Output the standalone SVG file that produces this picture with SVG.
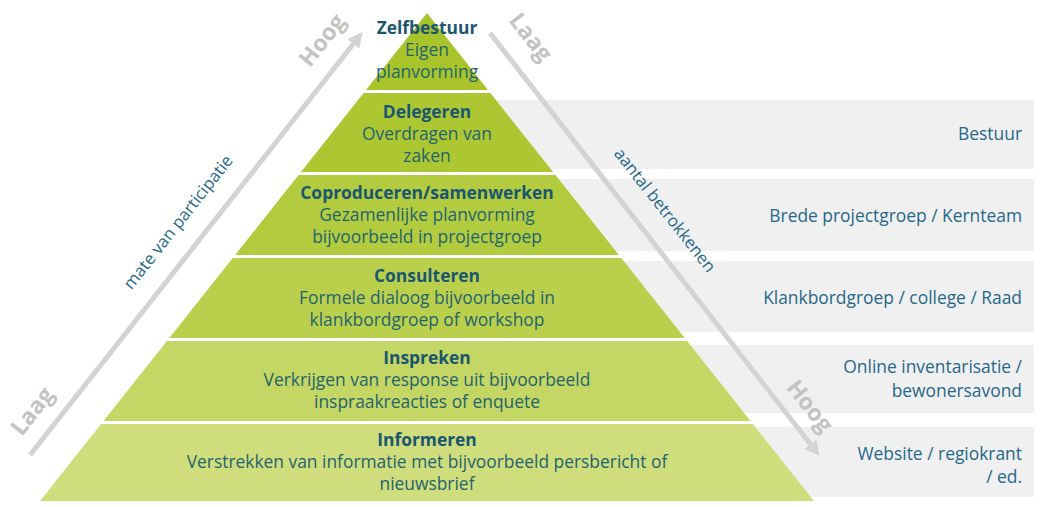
<svg xmlns="http://www.w3.org/2000/svg" width="1042" height="507" viewBox="0 0 1042 507">
<style>
.t{font-family:"Open Sans","Liberation Sans",sans-serif;font-size:17.4px;text-anchor:middle;fill:#1f646e}
.b{font-weight:700;fill:#1a5670}
.r{font-family:"Open Sans","Liberation Sans",sans-serif;font-size:17.4px;text-anchor:end;fill:#26688a}
.ax{font-family:"Open Sans","Liberation Sans",sans-serif;font-size:23px;font-weight:700;fill:#c3c3c3;text-anchor:middle}
.axl{font-family:"Open Sans","Liberation Sans",sans-serif;font-size:16.8px;fill:#26688a;text-anchor:middle}
.box{fill:#f0f0f0}
.arr{stroke:#d3d3d3;stroke-width:5;fill:none}
</style>
<defs>
<marker id="ah" viewBox="0 0 10 10" refX="5" refY="5" markerWidth="3" markerHeight="3" orient="auto" markerUnits="strokeWidth">
<path d="M0,0 L10,5 L0,10 z" fill="#d3d3d3"/>
</marker>
</defs>
<rect width="1042" height="507" fill="#ffffff"/>

<g id="side-boxes">
<g id="row-bestuur"><rect class="box" x="440" y="100" width="594" height="69"/><text class="r" x="1022" y="140">Bestuur</text></g>
<g id="row-projectgroep"><rect class="box" x="440" y="179" width="594" height="72"/><text class="r" x="1022" y="222">Brede projectgroep / Kernteam</text></g>
<g id="row-klankbord"><rect class="box" x="440" y="261" width="594" height="71"/><text class="r" x="1022" y="304">Klankbordgroep / college / Raad</text></g>
<g id="row-online"><rect class="box" x="440" y="345" width="594" height="68"/><text class="r" x="1022" y="373">Online inventarisatie /</text><text class="r" x="1022" y="397">bewonersavond</text></g>
<g id="row-website"><rect class="box" x="440" y="427" width="594" height="70"/><text class="r" x="1022" y="460">Website / regiokrant</text><text class="r" x="1022" y="483">/ ed.</text></g>
</g>

<g id="connectors">
<line class="arr" x1="30" y1="455" x2="358" y2="38" marker-end="url(#ah)"/>
<line class="arr" x1="490" y1="33" x2="815" y2="450" marker-end="url(#ah)"/>
</g>

<g id="axis-labels">
<text class="ax" transform="translate(32,411) rotate(-51.8)" dy="0.35em">Laag</text>
<text class="ax" transform="translate(322,40) rotate(-51.8)" dy="0.35em">Hoog</text>
<text class="axl" transform="translate(178,222) rotate(-51.8)" dy="0.35em">mate van participatie</text>
<text class="ax" transform="translate(531,37) rotate(51.8)" dy="0.35em">Laag</text>
<text class="axl" transform="translate(665,210) rotate(51.8)" dy="0.35em">aantal betrokkenen</text>
<text class="ax" transform="translate(810,406) rotate(51.8)" dy="0.35em">Hoog</text>
</g>

<g id="zelfbestuur">
<polygon points="427,13 488,90 366,90" fill="#a9c42b"/>
<text class="t b" x="427" y="34">Zelfbestuur</text>
<text class="t" x="427" y="56">Eigen</text>
<text class="t" x="427" y="78">planvorming</text>
</g>
<g id="delegeren">
<polygon points="363.6,93 490.4,93 553.1,172 300.9,172" fill="#adc733"/>
<text class="t b" x="427" y="118">Delegeren</text>
<text class="t" x="427" y="140">Overdragen van</text>
<text class="t" x="427" y="162">zaken</text>
</g>
<g id="coproduceren">
<polygon points="298.5,175 555.5,175 618.9,255 235.1,255" fill="#b3cb3e"/>
<text class="t b" x="427" y="199">Coproduceren/samenwerken</text>
<text class="t" x="427" y="221">Gezamenlijke planvorming</text>
<text class="t" x="427" y="243">bijvoorbeeld in projectgroep</text>
</g>
<g id="consulteren">
<polygon points="232.7,258 621.3,258 684.7,338 169.3,338" fill="#bad04d"/>
<text class="t b" x="427" y="282">Consulteren</text>
<text class="t" x="427" y="304">Formele dialoog bijvoorbeeld in</text>
<text class="t" x="427" y="326">klankbordgroep of workshop</text>
</g>
<g id="inspreken">
<polygon points="166.9,341 687.1,341 750.5,421 103.5,421" fill="#c4d663"/>
<text class="t b" x="427" y="364">Inspreken</text>
<text class="t" x="427" y="386">Verkrijgen van response uit bijvoorbeeld</text>
<text class="t" x="427" y="408">inspraakreacties of enquete</text>
</g>
<g id="informeren">
<polygon points="101.1,424 752.9,424 814,501 40,501" fill="#cfdd7c"/>
<text class="t b" x="427" y="446">Informeren</text>
<text class="t" x="427" y="468">Verstrekken van informatie met bijvoorbeeld persbericht of</text>
<text class="t" x="427" y="490">nieuwsbrief</text>
</g>
</svg>
